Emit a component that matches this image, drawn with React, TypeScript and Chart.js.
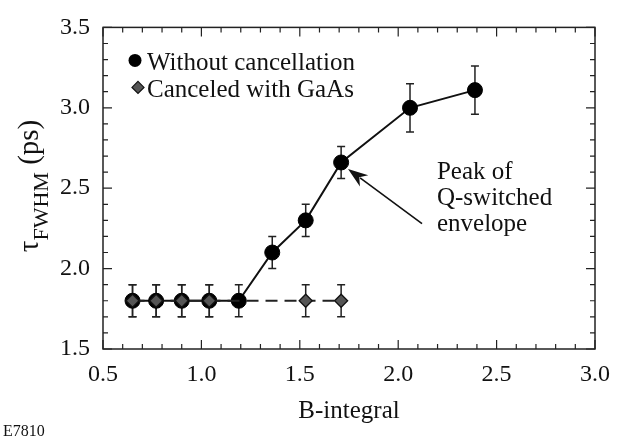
import React, { useEffect, useRef } from "react";
import { Chart, registerables } from "chart.js";

Chart.register(...registerables);

// ---- data ----
const bIntegralWithout = [0.65, 0.77, 0.9, 1.04, 1.19, 1.36, 1.53, 1.71, 2.06, 2.39];
const tauWithout = [1.8, 1.8, 1.8, 1.8, 1.8, 2.1, 2.3, 2.66, 3.0, 3.11];
const errWithout = [0.1, 0.1, 0.1, 0.1, 0.1, 0.1, 0.1, 0.1, 0.15, 0.15];

const bIntegralGaAs = [0.65, 0.77, 0.9, 1.04, 1.53, 1.71];
const tauGaAs = [1.8, 1.8, 1.8, 1.8, 1.8, 1.8];
const errGaAs = [0.1, 0.1, 0.1, 0.1, 0.1, 0.1];

const seriesLabels = ["Without cancellation", "Canceled with GaAs"];
const xTitle = "B-integral";
const yTitleSymbol = "τ";
const yTitleSub = "FWHM";
const yTitleUnit = " (ps)";
const annotationLines = ["Peak of", "Q-switched", "envelope"];
const figureId = "E7810";

// annotation anchor (data coordinates)
const arrowTip = { x: 1.745, y: 2.62 };
const arrowTail = { x: 2.121, y: 2.28 };
const annotationText = { x: 2.197, y: 2.56 };

const FONT = '"Liberation Serif", "Times New Roman", serif';
const INK = "#111";

const overlayPlugin = {
  id: "overlay",
  beforeDatasetsDraw(chart: any) {
    const ctx = chart.ctx;
    const ys = chart.scales.y;
    ctx.save();
    ctx.strokeStyle = "#222";
    ctx.lineWidth = 1.5;
    chart.data.datasets.forEach((ds: any, i: number) => {
      const meta = chart.getDatasetMeta(i);
      meta.data.forEach((el: any, j: number) => {
        const v = ds.data[j].y;
        const e = ds.errors[j];
        const x = el.x;
        const y1 = ys.getPixelForValue(v + e);
        const y2 = ys.getPixelForValue(v - e);
        ctx.beginPath();
        ctx.moveTo(x, y1);
        ctx.lineTo(x, y2);
        ctx.moveTo(x - 4, y1);
        ctx.lineTo(x + 4, y1);
        ctx.moveTo(x - 4, y2);
        ctx.lineTo(x + 4, y2);
        ctx.stroke();
      });
    });
    ctx.restore();
  },
  afterDraw(chart: any) {
    const ctx = chart.ctx;
    const { left, right, top, bottom } = chart.chartArea;
    const xs = chart.scales.x;
    const ys = chart.scales.y;
    ctx.save();
    // frame
    ctx.strokeStyle = "#222";
    ctx.lineWidth = 1.5;
    ctx.strokeRect(left, top, right - left, bottom - top);
    // inward ticks
    ctx.lineWidth = 1.2;
    ctx.beginPath();
    for (let i = 5; i <= 30; i++) {
      const x = xs.getPixelForValue(i / 10);
      const len = i % 5 === 0 ? 9 : 5;
      ctx.moveTo(x, bottom);
      ctx.lineTo(x, bottom - len);
      ctx.moveTo(x, top);
      ctx.lineTo(x, top + len);
    }
    for (let i = 15; i <= 35; i++) {
      const y = ys.getPixelForValue(i / 10);
      const len = i % 5 === 0 ? 9 : 5;
      ctx.moveTo(left, y);
      ctx.lineTo(left + len, y);
      ctx.moveTo(right, y);
      ctx.lineTo(right - len, y);
    }
    ctx.stroke();

    ctx.fillStyle = INK;
    // x title
    ctx.font = `25px ${FONT}`;
    ctx.textAlign = "center";
    ctx.textBaseline = "alphabetic";
    ctx.fillText(xTitle, (left + right) / 2, 418);

    // y title (rotated, with subscript)
    ctx.save();
    ctx.translate(30, 186);
    ctx.rotate(-Math.PI / 2);
    ctx.textAlign = "left";
    const mainFont = `29px ${FONT}`;
    const subFont = `22px ${FONT}`;
    ctx.font = mainFont;
    const w1 = ctx.measureText(yTitleSymbol).width;
    const w3 = ctx.measureText(yTitleUnit).width;
    ctx.font = subFont;
    const w2 = ctx.measureText(yTitleSub).width;
    let u = -(w1 + w2 + w3) / 2;
    ctx.font = mainFont;
    ctx.fillText(yTitleSymbol, u, 8);
    u += w1;
    ctx.font = subFont;
    ctx.fillText(yTitleSub, u, 18);
    u += w2;
    ctx.font = mainFont;
    ctx.fillText(yTitleUnit, u, 8);
    ctx.restore();

    // legend
    const ds0 = chart.data.datasets[1];
    const ds1 = chart.data.datasets[0];
    ctx.font = `25px ${FONT}`;
    ctx.textAlign = "left";
    ctx.textBaseline = "alphabetic";
    ctx.beginPath();
    ctx.arc(left + 32, top + 33, 6.5, 0, Math.PI * 2);
    ctx.fillStyle = ds0.pointBackgroundColor;
    ctx.fill();
    ctx.fillStyle = INK;
    ctx.fillText(seriesLabels[0], left + 44, top + 43);
    const dx = left + 35, dy = top + 60, r = 6;
    ctx.beginPath();
    ctx.moveTo(dx, dy - r);
    ctx.lineTo(dx + r, dy);
    ctx.lineTo(dx, dy + r);
    ctx.lineTo(dx - r, dy);
    ctx.closePath();
    ctx.fillStyle = ds1.pointBackgroundColor;
    ctx.fill();
    ctx.strokeStyle = "#111";
    ctx.lineWidth = 1.2;
    ctx.stroke();
    ctx.fillStyle = INK;
    ctx.fillText(seriesLabels[1], left + 44, top + 70);

    // annotation arrow
    const tx = xs.getPixelForValue(arrowTip.x);
    const ty = ys.getPixelForValue(arrowTip.y);
    const sx = xs.getPixelForValue(arrowTail.x);
    const sy = ys.getPixelForValue(arrowTail.y);
    const ang = Math.atan2(ty - sy, tx - sx);
    const headLen = 20;
    const headW = 7;
    const bx = tx - Math.cos(ang) * headLen;
    const by = ty - Math.sin(ang) * headLen;
    ctx.strokeStyle = "#111";
    ctx.lineWidth = 1.6;
    ctx.beginPath();
    ctx.moveTo(sx, sy);
    ctx.lineTo(bx + Math.cos(ang) * 5, by + Math.sin(ang) * 5);
    ctx.stroke();
    ctx.beginPath();
    ctx.moveTo(tx, ty);
    ctx.lineTo(bx + Math.sin(ang) * headW, by - Math.cos(ang) * headW);
    ctx.lineTo(bx + Math.cos(ang) * 6, by + Math.sin(ang) * 6);
    ctx.lineTo(bx - Math.sin(ang) * headW, by + Math.cos(ang) * headW);
    ctx.closePath();
    ctx.fillStyle = INK;
    ctx.fill();

    // annotation text
    const ax = xs.getPixelForValue(annotationText.x);
    const ay = ys.getPixelForValue(annotationText.y);
    ctx.font = `25px ${FONT}`;
    ctx.textAlign = "left";
    annotationLines.forEach((t, k) => ctx.fillText(t, ax, ay + k * 26));

    // figure id
    ctx.font = `16px ${FONT}`;
    ctx.fillText(figureId, 3, 436);
    ctx.restore();
  },
};

export default function App() {
  const ref = useRef<HTMLCanvasElement | null>(null);
  useEffect(() => {
    if (!ref.current) return;
    const tickFont = { family: FONT, size: 24, lineHeight: 1.2 };
    const chart = new Chart(ref.current, {
      type: "scatter",
      data: {
        datasets: [
          {
            label: seriesLabels[1],
            data: bIntegralGaAs.map((x, i) => ({ x, y: tauGaAs[i] })),
            errors: errGaAs,
            showLine: true,
            borderColor: "#222",
            borderWidth: 1.8,
            borderDash: [12, 7],
            pointStyle: "rectRot",
            pointRadius: 6.5,
            pointBackgroundColor: "#555",
            pointBorderColor: "#111",
            pointBorderWidth: 1.3,
          } as any,
          {
            label: seriesLabels[0],
            data: bIntegralWithout.map((x, i) => ({ x, y: tauWithout[i] })),
            errors: errWithout,
            showLine: true,
            borderColor: "#111",
            borderWidth: 2,
            pointStyle: "circle",
            pointRadius: 7.5,
            pointBackgroundColor: "#000",
            pointBorderColor: "#000",
            pointBorderWidth: 1,
          } as any,
        ],
      },
      options: {
        responsive: false,
        animation: false,
        layout: { padding: { top: 17, right: 41, left: 0, bottom: 0 } },
        plugins: {
          legend: { display: false },
          tooltip: { enabled: false },
        },
        scales: {
          x: {
            type: "linear",
            min: 0.5,
            max: 3.0,
            grid: { display: false, drawTicks: false },
            border: { display: false },
            ticks: {
              stepSize: 0.5,
              autoSkip: false,
              maxRotation: 0,
              padding: 11,
              color: INK,
              font: tickFont,
              callback: (v: any) => Number(v).toFixed(1),
            },
            afterFit: (s: any) => {
              s.height = 89;
            },
          },
          y: {
            type: "linear",
            min: 1.5,
            max: 3.5,
            grid: { display: false, drawTicks: false },
            border: { display: false },
            ticks: {
              stepSize: 0.5,
              autoSkip: false,
              padding: 13,
              color: INK,
              font: tickFont,
              callback: (v: any) => Number(v).toFixed(1),
            },
            afterFit: (s: any) => {
              s.width = 103;
            },
          },
        },
      } as any,
      plugins: [overlayPlugin],
    });
    return () => chart.destroy();
  }, []);
  return (
    <div style={{ position: "fixed", left: 0, top: 0, width: 636, height: 438, background: "#fff" }}>
      <canvas ref={ref} width={636} height={438} style={{ display: "block" }} />
    </div>
  );
}
